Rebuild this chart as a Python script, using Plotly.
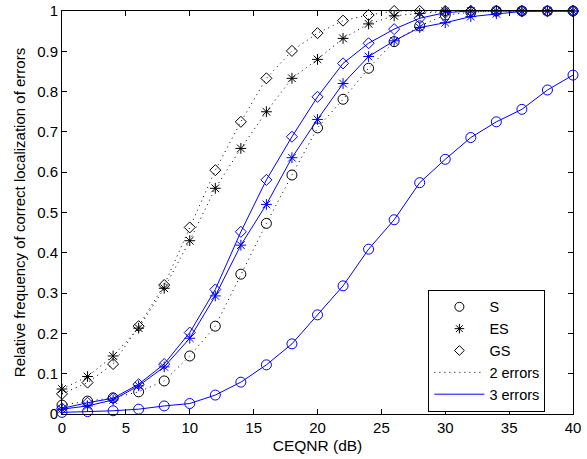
import plotly.graph_objects as go

snr = [0, 2, 4, 6, 8, 10, 12, 14, 16, 18, 20, 22, 24, 26, 28, 30, 32, 34, 36, 38, 40]

s2 = [0.022, 0.032, 0.040, 0.055, 0.082, 0.144, 0.218, 0.347, 0.473, 0.593, 0.710,
      0.781, 0.858, 0.924, 0.963, 0.990, 0.997, 1.0, 1.0, 1.0, 1.0]
es2 = [0.062, 0.093, 0.144, 0.213, 0.312, 0.430, 0.560, 0.659, 0.750, 0.833, 0.880,
       0.932, 0.968, 0.988, 0.994, 0.999, 1.0, 1.0, 1.0, 1.0, 1.0]
gs2 = [0.050, 0.078, 0.124, 0.218, 0.320, 0.463, 0.605, 0.725, 0.833, 0.901, 0.945,
       0.976, 0.990, 1.0, 1.0, 1.0, 1.0, 1.0, 1.0, 1.0, 1.0]

s3 = [0.004, 0.006, 0.008, 0.012, 0.020, 0.026, 0.047, 0.079, 0.122, 0.174, 0.246,
      0.318, 0.409, 0.482, 0.574, 0.632, 0.686, 0.725, 0.756, 0.804, 0.841]
es3 = [0.012, 0.020, 0.035, 0.070, 0.117, 0.188, 0.293, 0.419, 0.520, 0.636, 0.731,
       0.820, 0.887, 0.926, 0.959, 0.971, 0.986, 0.993, 0.999, 1.0, 1.0]
gs3 = [0.014, 0.028, 0.039, 0.074, 0.124, 0.202, 0.309, 0.452, 0.581, 0.688, 0.787,
       0.870, 0.920, 0.955, 0.982, 0.996, 1.0, 1.0, 1.0, 1.0, 1.0]

BLUE = "#0000ff"
FONT = "Liberation Sans, Arial, Helvetica, sans-serif"

marker_styles = {
    "S": dict(symbol="circle-open", size=10),
    "ES": dict(symbol="asterisk-open", size=9),
    "GS": dict(symbol="diamond-open", size=8.5),
}

fig = go.Figure()

def add(y, name, color, dash):
    ms = marker_styles[name]
    fig.add_trace(go.Scatter(
        x=snr, y=y, mode="lines+markers",
        line=dict(color=color, width=1, dash=dash),
        marker=dict(symbol=ms["symbol"], size=ms["size"], color=color,
                    line=dict(color=color, width=1)),
        showlegend=False, cliponaxis=False, hoverinfo="skip"))

DOT = "1px,4px"
add(s2, "S", "black", DOT)
add(es2, "ES", "black", DOT)
add(gs2, "GS", "black", DOT)
add(s3, "S", BLUE, "solid")
add(es3, "ES", BLUE, "solid")
add(gs3, "GS", BLUE, "solid")

# legend entries
for name in ["S", "ES", "GS"]:
    ms = marker_styles[name]
    fig.add_trace(go.Scatter(
        x=[None], y=[None], mode="markers", name=name,
        marker=dict(symbol=ms["symbol"], size=ms["size"] - 1, color="black",
                    line=dict(color="black", width=1))))
fig.add_trace(go.Scatter(x=[None], y=[None], mode="lines", name="2 errors",
                         line=dict(color="black", width=1, dash=DOT)))
fig.add_trace(go.Scatter(x=[None], y=[None], mode="lines", name="3 errors",
                         line=dict(color=BLUE, width=1)))

axis_common = dict(
    showgrid=False, zeroline=False, showline=True, linecolor="black", linewidth=1,
    mirror="ticks", ticks="inside", ticklen=5, tickcolor="black", automargin=False,
    tickfont=dict(family=FONT, size=15, color="black"),
)

fig.update_layout(
    width=587, height=459,
    margin=dict(l=62, r=14, t=11, b=45),
    paper_bgcolor="white", plot_bgcolor="white",
    font=dict(family=FONT, color="black"),
    xaxis=dict(range=[0, 40], dtick=5, tick0=0,
               title=dict(text="CEQNR (dB)", font=dict(size=15.5), standoff=5),
               **axis_common),
    yaxis=dict(range=[0, 1], dtick=0.1, tick0=0,
               title=dict(text="Relative frequency of correct localization of errors",
                          font=dict(size=15), standoff=7),
               **axis_common),
    legend=dict(x=0.717, y=0.308, xanchor="left", yanchor="top",
                bgcolor="white", bordercolor="black", borderwidth=1,
                font=dict(family=FONT, size=14.5, color="black"),
                itemwidth=50, tracegroupgap=0),
)

fig.write_html("out.html")
